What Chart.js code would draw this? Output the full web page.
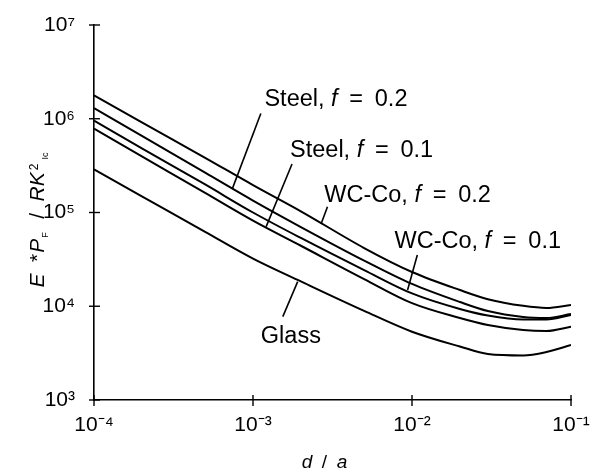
<!DOCTYPE html>
<html><head><meta charset="utf-8">
<script src="https://cdn.jsdelivr.net/npm/chart.js@4.4.0/dist/chart.umd.min.js"></script>
<style>html,body{margin:0;padding:0;background:#fff;}canvas{display:block;}</style>
</head><body>
<canvas id="c" width="594" height="471"></canvas>
<script>
// ---- data ----
const dOverA = [1e-4, 2e-4, 5e-4, 1e-3, 2e-3, 5e-3, 1e-2, 2e-2, 3e-2, 5e-2, 7e-2, 1e-1];
const wcco02  = [1.78e6, 9.16e5, 3.83e5, 1.96e5, 1.03e5, 4.18e4, 2.32e4, 1.49e4, 1.19e4, 1.01e4, 9.58e3, 1.03e4];
const steel02 = [1.30e6, 6.55e5, 2.66e5, 1.34e5, 7.00e4, 3.07e4, 1.73e4, 1.11e4, 8.89e3, 7.68e3, 7.50e3, 8.26e3];
const wcco01  = [9.53e5, 4.84e5, 1.99e5, 1.00e5, 5.35e4, 2.43e4, 1.37e4, 9.35e3, 7.96e3, 7.22e3, 7.22e3, 8.07e3];
const steel01 = [7.83e5, 3.97e5, 1.62e5, 8.20e4, 4.42e4, 1.95e4, 1.08e4, 7.50e3, 6.31e3, 5.58e3, 5.45e3, 6.05e3];
const glass   = [2.89e5, 1.49e5, 6.21e4, 3.22e4, 1.84e4, 8.93e3, 5.35e3, 3.72e3, 3.10e3, 2.99e3, 3.25e3, 3.86e3];
const seriesNames = ['WC-Co, f = 0.2', 'Steel, f = 0.2', 'WC-Co, f = 0.1', 'Steel, f = 0.1', 'Glass'];
const seriesValues = [wcco02, steel02, wcco01, steel01, glass];
const xTicks = [1e-4, 1e-3, 1e-2, 1e-1];
const yTicks = [1e3, 1e4, 1e5, 1e6, 1e7];

// curve labels: [pre, italic, post], text anchor (left, baseline) and leader line, in data units
const labelParts = [
  ['Steel, ', 'f', '\u2002=\u20020.2'],
  ['Steel, ', 'f', '\u2002=\u20020.1'],
  ['WC-Co, ', 'f', '\u2002=\u20020.2'],
  ['WC-Co, ', 'f', '\u2002=\u20020.1'],
  ['Glass', '', '']
];
const labelAt = [[1.18e-3, 1.37e6], [1.71e-3, 3.91e5], [2.81e-3, 1.31e5], [7.76e-3, 4.18e4], [1.12e-3, 4.06e3]];
const leaderFrom = [[1.12e-3, 1.14e6], [1.76e-3, 3.29e5], [2.94e-3, 1.15e5], [1.08e-2, 3.52e4], [1.91e-3, 1.83e4]];
const leaderTo   = [[7.43e-4, 1.81e5], [1.21e-3, 7.06e4], [2.68e-3, 7.54e4], [9.38e-3, 1.49e4], [1.54e-3, 7.74e3]];

const FONT = '"Liberation Sans", Arial, Helvetica, sans-serif';
const SUP = {'-':'\u207B','0':'\u2070','1':'\u00B9','2':'\u00B2','3':'\u00B3','4':'\u2074','5':'\u2075','6':'\u2076','7':'\u2077','8':'\u2078','9':'\u2079'};
function powLabel(v) {
  const e = String(Math.round(Math.log10(v)));
  return '10' + e.split('').map(c => SUP[c]).join('');
}
function noPad(s) { s.paddingTop = 0; s.paddingBottom = 0; s.paddingLeft = 0; s.paddingRight = 0; }

const datasets = seriesValues.map((vals, i) => ({
  label: seriesNames[i],
  data: dOverA.map((x, j) => ({x: x, y: vals[j]})),
  borderColor: '#000', borderWidth: 2, pointRadius: 0, fill: false,
  cubicInterpolationMode: 'monotone'
}));

const decor = {
  id: 'decor',
  afterDatasetsDraw(chart) {
    const ctx = chart.ctx, xs = chart.scales.x, ys = chart.scales.y;
    ctx.save();
    ctx.strokeStyle = '#000'; ctx.fillStyle = '#000';
    // tick marks crossing the axes
    ctx.lineWidth = 1.4;
    xs.ticks.forEach(t => {
      const px = xs.getPixelForValue(t.value);
      ctx.beginPath(); ctx.moveTo(px, ys.bottom - 5); ctx.lineTo(px, ys.bottom + 6); ctx.stroke();
    });
    ys.ticks.forEach(t => {
      const py = ys.getPixelForValue(t.value);
      ctx.beginPath(); ctx.moveTo(xs.left - 5, py); ctx.lineTo(xs.left + 6, py); ctx.stroke();
    });
    // leader lines
    ctx.lineWidth = 1.6;
    leaderFrom.forEach((p, i) => {
      const q = leaderTo[i];
      ctx.beginPath();
      ctx.moveTo(xs.getPixelForValue(p[0]), ys.getPixelForValue(p[1]));
      ctx.lineTo(xs.getPixelForValue(q[0]), ys.getPixelForValue(q[1]));
      ctx.stroke();
    });
    // curve labels
    ctx.textBaseline = 'alphabetic'; ctx.textAlign = 'left';
    const fs = 23.5;
    labelParts.forEach((parts, i) => {
      let x = xs.getPixelForValue(labelAt[i][0]);
      const y = ys.getPixelForValue(labelAt[i][1]);
      parts.forEach((s, k) => {
        if (!s) return;
        ctx.font = (k === 1 ? 'italic ' : '') + fs + 'px ' + FONT;
        ctx.fillText(s, x, y);
        x += ctx.measureText(s).width;
      });
    });
    // x axis title: d / a
    const xt = [['d', 'italic 19px '], ['\u2002/\u2002', '19px '], ['a', 'italic 19px ']];
    let w = 0;
    xt.forEach(s => { ctx.font = s[1] + FONT; w += ctx.measureText(s[0]).width; });
    let x0 = (xs.left + xs.right) / 2 - 8 - w / 2;
    xt.forEach(s => { ctx.font = s[1] + FONT; ctx.fillText(s[0], x0, 468); x0 += ctx.measureText(s[0]).width; });
    // y axis title: E *P_F / RK^2_Ic (rotated)
    const yt = [
      ['E', 'italic 21px ', 0, 1], ['\u2002*', '21px ', 0, 1], ['P', 'italic 21px ', 0, 1],
      ['F', '9px ', 4, 3], ['\u2002/\u2002', '21px ', 0, 1], ['R', 'italic 21px ', 0, 0],
      ['K', 'italic 21px ', 0, 2], ['2', '12px ', -6, 4], ['Ic', '9px ', 4, 0]
    ];
    let tw = 0;
    yt.forEach(s => { ctx.font = s[1] + FONT; tw += ctx.measureText(s[0]).width + s[3]; });
    ctx.translate(43.5, 220);
    ctx.rotate(-Math.PI / 2);
    let lx = -tw / 2;
    yt.forEach(s => {
      ctx.font = s[1] + FONT;
      ctx.fillText(s[0], lx, s[2]);
      lx += ctx.measureText(s[0]).width + s[3];
    });
    ctx.restore();
  }
};

new Chart(document.getElementById('c'), {
  type: 'line',
  data: { datasets: datasets },
  plugins: [decor],
  options: {
    responsive: false, animation: false, events: [],
    layout: { autoPadding: false, padding: { top: 25, right: 23, left: 0, bottom: 0 } },
    plugins: { legend: { display: false }, tooltip: { enabled: false }, title: { display: false } },
    scales: {
      x: {
        type: 'logarithmic', min: 1e-4, max: 1e-1,
        afterBuildTicks: s => { s.ticks = xTicks.map(v => ({ value: v })); },
        afterFit: s => { s.height = 71; noPad(s); },
        grid: { display: false, drawTicks: false },
        border: { display: true, color: '#000', width: 1.6 },
        ticks: { color: '#000', font: { family: FONT, size: 21 }, padding: 13, maxRotation: 0, autoSkip: false,
                 callback: v => powLabel(v) }
      },
      y: {
        type: 'logarithmic', min: 1e3, max: 1e7,
        afterBuildTicks: s => { s.ticks = yTicks.map(v => ({ value: v })); },
        afterFit: s => { s.width = 94; noPad(s); },
        grid: { display: false, drawTicks: false },
        border: { display: true, color: '#000', width: 1.6 },
        ticks: { color: '#000', font: { family: FONT, size: 21 }, padding: 19, autoSkip: false,
                 callback: v => powLabel(v) }
      }
    }
  }
});
</script>
</body></html>
